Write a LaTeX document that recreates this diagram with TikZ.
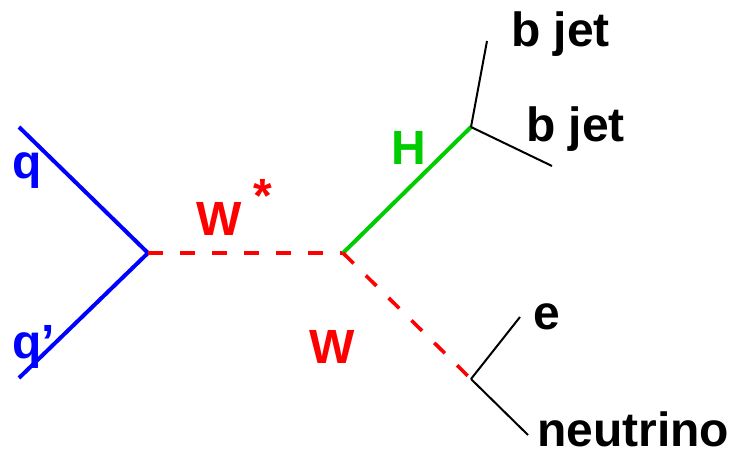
\documentclass[tikz,border=0pt]{standalone}
\usepackage{fontspec}
\setmainfont{Liberation Sans}
\definecolor{qblue}{RGB}{0,0,255}
\definecolor{wred}{RGB}{255,0,0}
\definecolor{hgreen}{RGB}{0,204,0}
\begin{document}
\begin{tikzpicture}[x=1pt,y=-1pt,
  lbl/.style={inner sep=0pt,anchor=base west,font=\fontsize{48}{56}\selectfont\bfseries},
  quark/.style={draw=qblue,line width=4pt},
  wboson/.style={draw=wred,line width=3.6pt,dash pattern=on 15pt off 17pt},
  higgs/.style={draw=hgreen,line width=4pt},
  final/.style={draw=black,line width=2pt}]
\useasboundingbox (0,0) rectangle (731,452);
% vertices and external line ends
\coordinate (qin)  at (19,127);
\coordinate (qpin) at (19,378);
\coordinate (v1)   at (148,253);
\coordinate (v2)   at (343,253);
\coordinate (vh)   at (471,127);
\coordinate (vw)   at (471,379);
\coordinate (b1)   at (487,41);
\coordinate (b2)   at (552,166);
\coordinate (el)   at (520,317);
\coordinate (nu)   at (528,435);
% propagators
\draw[quark] (qin) -- (v1);
\draw[quark] (qpin) -- (v1);
\draw[wboson] (v1) -- (v2);
\draw[higgs] (v2) -- (vh);
\draw[wboson] (v2) -- (vw);
\draw[final] (vh) -- (b1);
\draw[final] (vh) -- (b2);
\draw[final] (vw) -- (el);
\draw[final] (vw) -- (nu);
% labels
\node[lbl,text=qblue] (lq)  at (12,178) {q};
\node[lbl,text=qblue] (lqp) at (12,358) {q’};
\node[lbl,text=wred]  (lws) at (196,235) {W\hspace{12pt}\raisebox{23pt}{*}};
\node[lbl,text=hgreen] (lh) at (391,164) {H};
\node[lbl,text=wred]  (lw)  at (309,363) {W};
\node[lbl] (lb1) at (511,47)  {b jet};
\node[lbl] (lb2) at (526,141) {b jet};
\node[lbl] (le)  at (533,329) {e};
\node[lbl] (lnu) at (537,446) {neutrino};
\end{tikzpicture}
\end{document}
